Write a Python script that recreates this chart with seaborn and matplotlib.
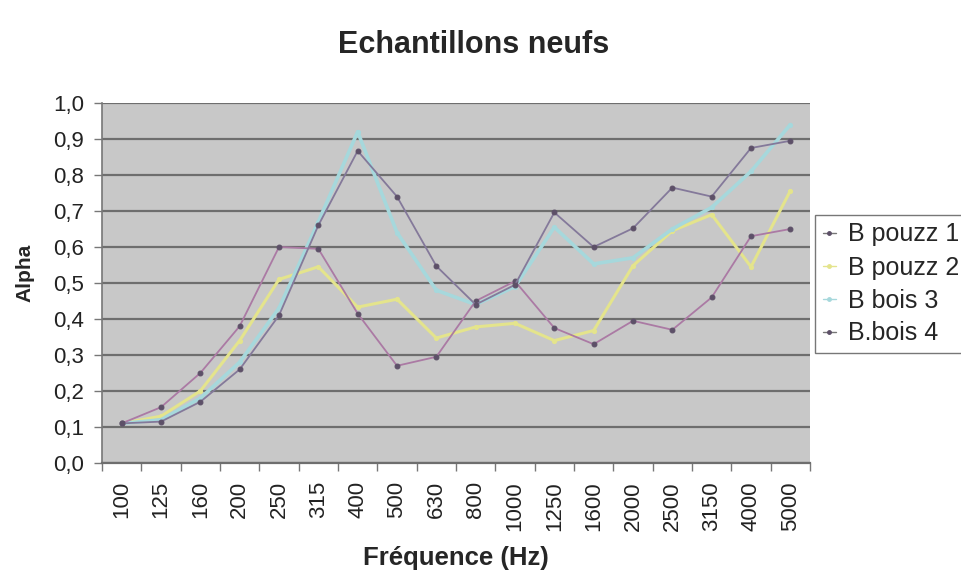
import matplotlib
matplotlib.use("Agg")
import matplotlib.pyplot as plt
import seaborn as sns
import pandas as pd
from matplotlib.lines import Line2D
from matplotlib.ticker import FixedLocator, FuncFormatter

freqs = ["100", "125", "160", "200", "250", "315", "400", "500", "630", "800",
         "1000", "1250", "1600", "2000", "2500", "3150", "4000", "5000"]
b_pouzz_1 = [0.11, 0.155, 0.25, 0.38, 0.60, 0.595, 0.415, 0.27, 0.295, 0.45,
             0.505, 0.375, 0.33, 0.395, 0.37, 0.46, 0.63, 0.65]
b_pouzz_2 = [0.11, 0.13, 0.20, 0.34, 0.51, 0.545, 0.433, 0.455, 0.347, 0.378,
             0.388, 0.34, 0.368, 0.548, 0.645, 0.69, 0.545, 0.756]
b_bois_3 = [0.11, 0.12, 0.18, 0.28, 0.43, 0.67, 0.92, 0.64, 0.48, 0.44,
            0.49, 0.655, 0.553, 0.57, 0.65, 0.71, 0.81, 0.94]
b_bois_4 = [0.11, 0.115, 0.17, 0.26, 0.41, 0.66, 0.867, 0.74, 0.547, 0.44,
            0.495, 0.696, 0.60, 0.652, 0.765, 0.74, 0.875, 0.895]
series_names = ["B pouzz 1", "B pouzz 2", "B bois 3", "B.bois 4"]
y_ticks = [0.0, 0.1, 0.2, 0.3, 0.4, 0.5, 0.6, 0.7, 0.8, 0.9, 1.0]

sns.set_theme(style="white")
plt.rcParams["font.family"] = ["Liberation Sans", "DejaVu Sans"]

fig = plt.figure(figsize=(9.61, 5.73), dpi=100)
ax = fig.add_axes([102 / 961, 1 - 463 / 573, (810 - 102) / 961, (463 - 103) / 573])
ax.set_facecolor("#c8c8c8")

styles = {
    "B pouzz 1": dict(color="#ab7aa4", lw=1.3, mfc="#5d5068", ms=3.5, z=4),
    "B pouzz 2": dict(color="#e4e48c", lw=2.2, mfc="#e4e48c", ms=3, z=2),
    "B bois 3": dict(color="#a6d8dc", lw=2.6, mfc="#a6d8dc", ms=3, z=2.5),
    "B.bois 4": dict(color="#84799a", lw=1.3, mfc="#5d5068", ms=3.5, z=4.5),
}
values = {"B pouzz 1": b_pouzz_1, "B pouzz 2": b_pouzz_2,
          "B bois 3": b_bois_3, "B.bois 4": b_bois_4}

for name in ["B pouzz 2", "B bois 3", "B pouzz 1", "B.bois 4"]:
    st = styles[name]
    df = pd.DataFrame({"freq": freqs, "alpha": values[name]})
    sns.lineplot(data=df, x="freq", y="alpha", ax=ax, color=st["color"],
                 lw=st["lw"], marker="o", markersize=st["ms"],
                 markerfacecolor=st["mfc"], markeredgecolor=st["mfc"],
                 sort=False, zorder=st["z"], legend=False)

ax.set_xlim(-0.5, len(freqs) - 0.5)
ax.set_ylim(0, 1.0)
ax.set_yticks(y_ticks)
ax.yaxis.set_major_formatter(FuncFormatter(lambda v, p: f"{v:.1f}".replace(".", ",")))
ax.yaxis.grid(True, color="#6e6e6e", lw=1.6, zorder=1)
ax.set_axisbelow(True)

ax.set_xticks(range(len(freqs)))
ax.set_xticklabels(freqs, rotation=90)
ax.xaxis.set_minor_locator(FixedLocator([i - 0.5 for i in range(len(freqs) + 1)]))
ax.tick_params(axis="x", which="major", length=0, pad=13, labelsize=16, labelcolor="#222222")
ax.tick_params(axis="x", which="minor", length=6, width=1, color="#777777", direction="out", bottom=True)
ax.tick_params(axis="y", which="major", length=6, width=1, color="#777777", direction="out",
               left=True, labelsize=16, labelcolor="#222222", pad=7)

for s in ["top", "right"]:
    ax.spines[s].set_visible(False)
ax.spines["left"].set_color("#777777")
ax.spines["left"].set_linewidth(1.2)
ax.spines["bottom"].set_color("#6e6e6e")
ax.spines["bottom"].set_linewidth(1.6)

ax.set_xlabel("Fréquence (Hz)", fontsize=18.5, fontweight="bold")
ax.xaxis.set_label_coords(0.5, (463 - 558) / 360)
ax.xaxis.label.set_va("center")
ax.set_ylabel("Alpha", fontsize=15, fontweight="bold")
ax.yaxis.set_label_coords((25 - 102) / 708, (463 - 273) / 360)
ax.yaxis.label.set_va("center")
fig.text(474 / 961, 1 - 45 / 573, "Echantillons neufs", ha="center", va="center",
         fontsize=22, fontweight="bold")

handles = []
for name in series_names:
    st = styles[name]
    line_col = st["color"] if name in ("B pouzz 2", "B bois 3") else "#777777"
    handles.append(Line2D([0], [0], color=line_col, lw=1, marker="o", markersize=2.5,
                          markerfacecolor=st["mfc"], markeredgecolor=st["mfc"]))
leg = fig.legend(handles, series_names, loc="upper left",
                 bbox_to_anchor=(815 / 961, 1 - 215 / 573), frameon=True, fancybox=False,
                 fontsize=18, handlelength=0.55, handletextpad=0.45, labelspacing=0.36,
                 borderpad=0.3, borderaxespad=0)
leg.get_frame().set_edgecolor("#555555")
leg.get_frame().set_linewidth(1)

fig.savefig("out.png", dpi=100)
